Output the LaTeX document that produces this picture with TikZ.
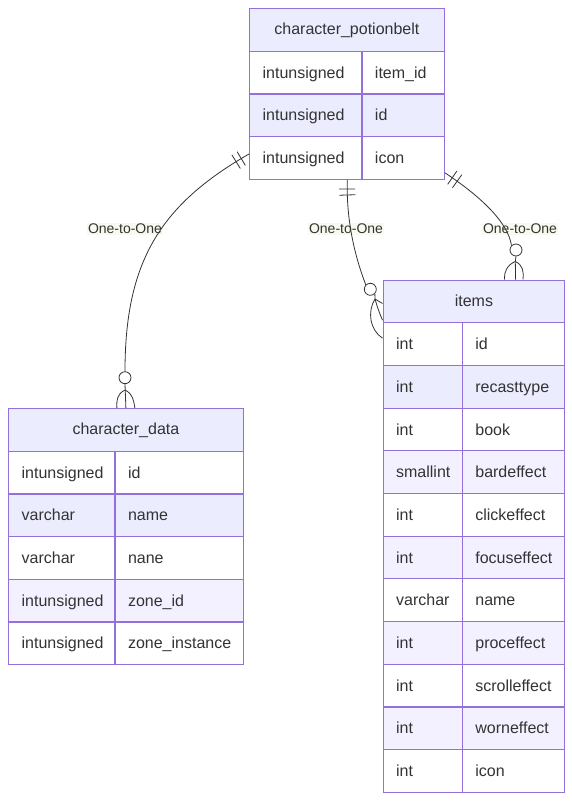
\documentclass[tikz,border=0pt]{standalone}
\usepackage{fontspec}
\setmainfont{Liberation Sans}
\usetikzlibrary{decorations.markings}
\definecolor{bdr}{HTML}{9370DB}
\definecolor{hdr}{HTML}{ECECFF}
\definecolor{rowB}{HTML}{F3F1FF}
\definecolor{txt}{HTML}{333333}
\definecolor{lbl}{HTML}{F3F6E4}
\begin{document}
\begin{tikzpicture}[x=1pt,y=-1pt,
  ercell/.style={draw=bdr, line width=1.3pt, inner xsep=13pt, inner ysep=0pt,
    minimum height=42.67pt, anchor=north west, text=txt,
    text height=14pt, text depth=3pt,
    font=\fontsize{16}{19}\selectfont, align=left},
  erhead/.style={draw=bdr, line width=1.3pt, fill=hdr, inner sep=0pt,
    minimum height=42.67pt, anchor=north west, text=txt,
    text height=14pt, text depth=4pt,
    font=\fontsize{16}{19}\selectfont},
  rel/.style={draw=txt, line width=0.8pt},
  ringend/.style={circle, draw=txt, line width=0.8pt, fill=white,
    minimum size=12pt, inner sep=0pt},
  elabel/.style={fill=lbl, fill opacity=0.6, text opacity=1, text=txt,
    font=\fontsize{14}{16}\selectfont, inner sep=1.5pt},
  twobars/.style={postaction={decorate, decoration={markings,
    mark=at position 9pt with {\draw[rel] (0pt,-8pt)--(0pt,8pt);},
    mark=at position 15pt with {\draw[rel] (0pt,-8pt)--(0pt,8pt);}}}},
]
\useasboundingbox (0,0) rectangle (572,801);

% ---------- character_potionbelt ----------
\node[erhead, minimum width=194.5pt] (cpb) at (249,8) {character\_potionbelt};
\foreach \t/\n [count=\i] in {intunsigned/item\_id, intunsigned/id, intunsigned/icon}{
  \pgfmathsetmacro\yy{8+42.67*\i}
  \ifnum\i=2 \def\rf{hdr}\else\ifodd\i \def\rf{white}\else\def\rf{rowB}\fi\fi
  \node[ercell, fill=\rf, text width=86.3pt] (cpb-a\i) at (249,\yy) {\t};
  \node[ercell, fill=\rf, text width=56.2pt] (cpb-b\i) at (361.3,\yy) {\n};
}

% ---------- character_data ----------
\node[erhead, minimum width=234.5pt] (cd) at (8,408) {character\_data};
\foreach \t/\n [count=\i] in {intunsigned/id, varchar/name, varchar/nane,
    intunsigned/zone\_id, intunsigned/zone\_instance}{
  \pgfmathsetmacro\yy{408+42.67*\i}
  \ifnum\i=2 \def\rf{hdr}\else\ifodd\i \def\rf{white}\else\def\rf{rowB}\fi\fi
  \node[ercell, fill=\rf, text width=80.4pt] (cd-a\i) at (8,\yy) {\t};
  \node[ercell, fill=\rf, text width=102.1pt] (cd-b\i) at (114.4,\yy) {\n};
}

% ---------- items ----------
\node[erhead, minimum width=181.5pt] (it) at (382.5,279.5) {items};
\foreach \t/\n [count=\i] in {int/id, int/recasttype, int/book, smallint/bardeffect,
    int/clickeffect, int/focuseffect, varchar/name, int/proceffect,
    int/scrolleffect, int/worneffect, int/icon}{
  \pgfmathsetmacro\yy{279.5+42.67*\i}
  \ifnum\i=2 \def\rf{hdr}\else\ifodd\i \def\rf{white}\else\def\rf{rowB}\fi\fi
  \node[ercell, fill=\rf, text width=53.2pt] (it-a\i) at (382.5,\yy) {\t};
  \node[ercell, fill=\rf, text width=76.3pt] (it-b\i) at (461.7,\yy) {\n};
}

% ---------- labels ----------
\node[elabel] (l1) at (125,229) {One-to-One};
\node[elabel] (l2) at (346,229) {One-to-One};
\node[elabel] (l3) at (520,229) {One-to-One};

% ---------- connector 1: character_potionbelt -> character_data ----------
\coordinate (s1) at ([yshift=4pt]cpb-a3.west);
\node[ringend] (c1) at (125,377.7) {};
\draw[rel, twobars] (s1) .. controls (160,205) and (125,262) .. (c1.north);
\draw[rel] (c1.south) -- (cd.north);
\draw[rel] (125,390) .. controls (117,394) and (116.5,400) .. ([xshift=-9pt]cd.north);
\draw[rel] (125,390) .. controls (133,394) and (133.5,400) .. ([xshift=9pt]cd.north);

% ---------- connector 2: character_potionbelt -> items (left side) ----------
\coordinate (s2) at ([xshift=-15.3pt]cpb-a3.south east);
\node[ringend] (c2) at (370.3,289.3) {};
\draw[rel, twobars] (s2) .. controls (346,225) and (357,262) .. (c2.north west);
\coordinate (f2) at (375,299);
\draw[rel] (c2.south east) -- (f2);
\draw[rel] (f2) -- ([yshift=-2pt]it.west);
\draw[rel] (f2) .. controls (377,306) and (379,312) .. ([yshift=2pt]it-a1.north west);
\draw[rel] (f2) .. controls (367,312) and (370,330) .. ([yshift=-16pt]it-a1.north west);

% ---------- connector 3: character_potionbelt -> items (top) ----------
\coordinate (s3) at ([yshift=-14.7pt]cpb-b3.east);
\node[ringend] (c3) at (516,250) {};
\draw[rel, twobars] (s3) .. controls (480,196) and (508,222) .. (c3.north west);
\coordinate (f3) at (515.3,261.5);
\draw[rel] (c3.south) -- (f3);
\draw[rel] (f3) -- ([xshift=41.7pt]it.north);
\draw[rel] (f3) .. controls (507,265) and (504,272) .. ([xshift=30.5pt]it.north);
\draw[rel] (f3) .. controls (523,265) and (524,272) .. ([xshift=49pt]it.north);
\end{tikzpicture}
\end{document}
